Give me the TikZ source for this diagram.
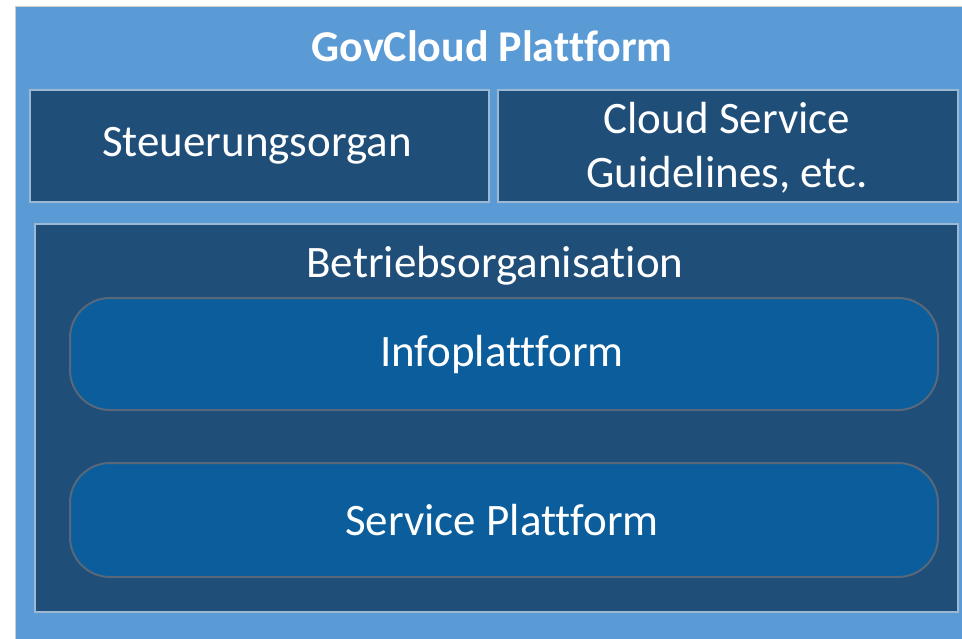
\documentclass[tikz,border=0pt]{standalone}
\usepackage{fontspec}
\setmainfont[Ligatures=NoCommon]{Carlito}
\definecolor{outerblue}{HTML}{5B9BD5}
\definecolor{darkbox}{HTML}{1F4E79}
\definecolor{pillblue}{HTML}{0B5E9B}
\definecolor{pillline}{HTML}{56687A}
\definecolor{boxline}{HTML}{9DB8D2}
\begin{document}
\begin{tikzpicture}[x=1pt,y=-1pt,
  darkrect/.style={draw=boxline,line width=1.5pt,fill=darkbox},
  pill/.style={draw=pillline,line width=2pt,fill=pillblue,rounded corners=40pt},
  lbl/.style={text=white,font=\fontsize{45}{54}\selectfont,align=center,inner sep=0pt}]
\useasboundingbox (0,0) rectangle (962,638);
\fill[white] (0,0) rectangle (962,638);
\fill[outerblue] (15,6) rectangle (965,641);
\draw[gray!40,line width=1pt] (15,641) -- (15,6) -- (965,6);
\node[text=white,font=\bfseries\fontsize{44}{50}\selectfont,inner sep=0pt] (title) at (492,46) {GovCloud Plattform};
\draw[darkrect] (30,90) rectangle (489,202);
\node[lbl] (steuer) at (257,146) {Steuerungsorgan};
\draw[darkrect] (498,90) rectangle (958,202);
\node[lbl] (cloud) at (727,148) {Cloud Service\\Guidelines, etc.};
\draw[darkrect] (35,224) rectangle (958,612);
\node[lbl] (betrieb) at (495,266) {Betriebsorganisation};
\draw[pill] (70,298) rectangle (938,410);
\node[lbl] (info) at (502,354) {Infoplattform};
\draw[pill] (70,463) rectangle (938,577);
\node[lbl] (service) at (502,520) {Service Plattform};
\end{tikzpicture}
\end{document}
